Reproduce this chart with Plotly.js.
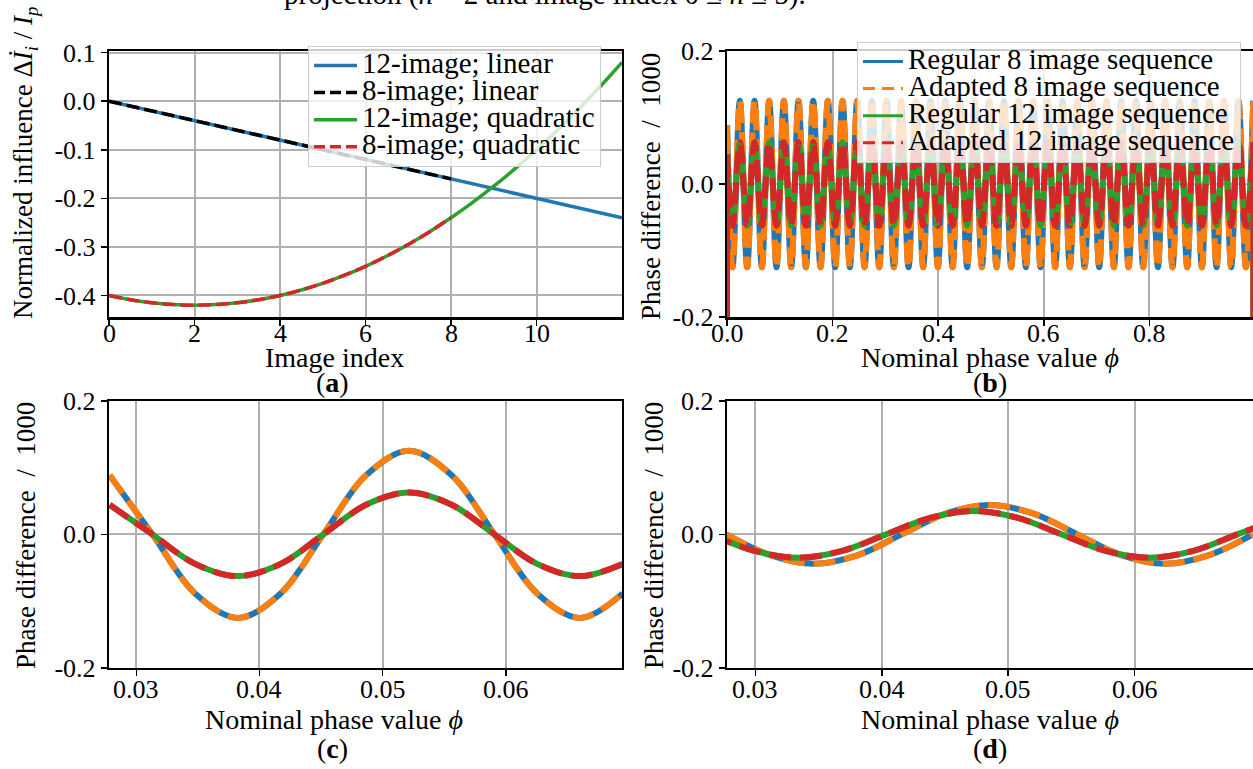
<!DOCTYPE html>
<html><head><meta charset="utf-8">
<script src="https://cdn.plot.ly/plotly-3.0.1.min.js"></script>
<style>html,body{margin:0;padding:0;background:#fff;}#chart{width:1253px;height:769px;}</style>
</head><body><div id="chart"></div>
<script>
// ---------- Panel (a): normalized influence vs image index ----------
const imageIdx = [0,1,2,3,4,5,6,7,8,9,10,11,12];
const lin12 = [0,-0.02,-0.04,-0.06,-0.08,-0.10,-0.12,-0.14,-0.16,-0.18,-0.20,-0.22,-0.24];
const lin8Idx = [0,1,2,3,4,5,6,7,8];
const lin8 = [0,-0.02,-0.04,-0.06,-0.08,-0.10,-0.12,-0.14,-0.16];
const quadIdx = [0,0.5,1,1.5,2,2.5,3,3.5,4,4.5,5,5.5,6,6.5,7,7.5,8,8.5,9,9.5,10,10.5,11,11.5,12];
const quad12 = [-0.4,-0.40875,-0.415,-0.41875,-0.42,-0.41875,-0.415,-0.40875,-0.4,-0.38875,-0.375,-0.35875,-0.34,-0.31875,-0.295,-0.26875,-0.24,-0.20875,-0.175,-0.13875,-0.1,-0.05875,-0.015,0.03125,0.08];
const quad8Idx = [0,0.5,1,1.5,2,2.5,3,3.5,4,4.5,5,5.5,6,6.5,7,7.5,8];
const quad8 = [-0.4,-0.40875,-0.415,-0.41875,-0.42,-0.41875,-0.415,-0.40875,-0.4,-0.38875,-0.375,-0.35875,-0.34,-0.31875,-0.295,-0.26875,-0.24];

// ---------- Panel (b): phase difference over full phase range ----------
const bTroughPhi = [0.0105,0.0382,0.0660,0.0938,0.1216,0.1494,0.1771,0.2049,0.2327,0.2605,0.2883,0.3160,0.3438,0.3716,0.3994,0.4272,0.4549,0.4827,0.5105,0.5383,0.5661,0.5938,0.6216,0.6494,0.6772,0.7049,0.7327,0.7605,0.7883,0.8161,0.8438,0.8716,0.8994,0.9272,0.9549,0.9827];
const bPeakPhi = [0.0244,0.0521,0.0799,0.1077,0.1355,0.1633,0.1910,0.2188,0.2466,0.2744,0.3021,0.3299,0.3577,0.3855,0.4133,0.4410,0.4688,0.4966,0.5244,0.5521,0.5799,0.6077,0.6355,0.6633,0.6910,0.7188,0.7466,0.7744,0.8021,0.8299,0.8577,0.8855,0.9133,0.9410,0.9688,0.9966];
const bStart8 = 0.0884, bPeak8 = 0.125, bTrough8 = -0.125;
const bStart12 = 0.0442, bPeak12 = 0.0625, bTrough12 = -0.0625;
// wrap-around artefacts at both ends of the phase range
const bEdgeStartPhi = [0.0012,0.0022];
const bEdgeStart8 = [-0.6,0.0884], bEdgeStart12 = [-0.6,0.0442];
const bEdgeEndPhi = [0.9950,0.9958];
const bEdgeEnd8 = [0.124,-0.6], bEdgeEnd12 = [0.062,-0.6];

// ---------- Panel (c): zoom ----------
const cPhi = [0.02783,0.0313,0.03477,0.03825,0.04172,0.04519,0.04866,0.05214,0.05561,0.05908,0.06255,0.06603,0.0695];
const cReg8 = [0.0884,0,-0.0884,-0.125,-0.0884,0,0.0884,0.125,0.0884,0,-0.0884,-0.125,-0.0884];
const cAdp8 = [0.0884,0,-0.0884,-0.125,-0.0884,0,0.0884,0.125,0.0884,0,-0.0884,-0.125,-0.0884];
const cReg12 = [0.0442,0,-0.0442,-0.0625,-0.0442,0,0.0442,0.0625,0.0442,0,-0.0442,-0.0625,-0.0442];
const cAdp12 = [0.0442,0,-0.0442,-0.0625,-0.0442,0,0.0442,0.0625,0.0442,0,-0.0442,-0.0625,-0.0442];

// ---------- Panel (d): zoom, second case ----------
const dPhi8 = [0.0277,0.03117,0.03464,0.03811,0.04158,0.04506,0.04853,0.052,0.05547,0.05894,0.06242,0.06589,0.06936];
const dReg8 = [0,-0.0311,-0.044,-0.0311,0,0.0311,0.044,0.0311,0,-0.0311,-0.044,-0.0311,0];
const dAdp8 = [0,-0.0311,-0.044,-0.0311,0,0.0311,0.044,0.0311,0,-0.0311,-0.044,-0.0311,0];
const dPhi12 = [0.02646,0.02993,0.0334,0.03687,0.04034,0.04382,0.04729,0.05076,0.05423,0.0577,0.06118,0.06465,0.06812,0.07159];
const dReg12 = [0,-0.0247,-0.035,-0.0247,0,0.0247,0.035,0.0247,0,-0.0247,-0.035,-0.0247,0,0.0247];
const dAdp12 = [0,-0.0247,-0.035,-0.0247,0,0.0247,0.035,0.0247,0,-0.0247,-0.035,-0.0247,0,0.0247];

// ---------- Tick labels ----------
const aXTicks = [0,2,4,6,8,10], aXText = ['0','2','4','6','8','10'];
const aYTicks = [0.1,0,-0.1,-0.2,-0.3,-0.4], aYText = ['0.1','0.0','-0.1','-0.2','-0.3','-0.4'];
const bXTicks = [0,0.2,0.4,0.6,0.8], bXText = ['0.0','0.2','0.4','0.6','0.8'];
const phYTicks = [0.2,0,-0.2], phYText = ['0.2','0.0','-0.2'];
const cdXTicks = [0.03,0.04,0.05,0.06], cdXText = ['0.03','0.04','0.05','0.06'];

const legA = ['12-image; linear','8-image; linear','12-image; quadratic','8-image; quadratic'];
const legB = ['Regular 8 image sequence','Adapted 8 image sequence','Regular 12 image sequence','Adapted 12 image sequence'];

// ---------- build ----------
const FONT = 'Liberation Serif';
const BLUE='#1f77b4', ORANGE='#ff7f0e', GREEN='#2ca02c', RED='#d62728';
const W=1253, H=769;
const PX = x => x/W, PY = y => 1 - y/H;

function buildB(start, trough, peak){
  const x=[0], y=[start];
  for(let k=0;k<bTroughPhi.length;k++){
    x.push(bTroughPhi[k]); y.push(trough);
    x.push(bPeakPhi[k]); y.push(peak);
  }
  return {x, y};
}
const b8 = buildB(bStart8, bTrough8, bPeak8);
const b12 = buildB(bStart12, bTrough12, bPeak12);

const DASH_A = '13px,5px', DASH_T = '22px,9px';
const traces = [];
function line(x,y,color,width,dash,xa,ya,shape){
  traces.push({x,y,type:'scatter',mode:'lines',xaxis:xa,yaxis:ya,showlegend:false,hoverinfo:'skip',
    line:{color,width,dash:dash||'solid',shape:shape||'linear',smoothing:1}});
}
function legItem(name,color,width,dash,leg,xa,ya){
  traces.push({x:[null],y:[null],type:'scatter',mode:'lines',xaxis:xa,yaxis:ya,legend:leg,showlegend:true,
    name:'<span style="font-size:29px">'+name+'</span>',line:{color,width,dash:dash||'solid'}});
}
// panel a
line(imageIdx,lin12,BLUE,3.5,null,'x','y');
line(lin8Idx,lin8,'black',3.5,DASH_A,'x','y');
line(quadIdx,quad12,GREEN,3.5,null,'x','y','spline');
line(quad8Idx,quad8,RED,3.5,DASH_A,'x','y','spline');
legItem(legA[0],BLUE,3.5,null,'legend','x','y');
legItem(legA[1],'black',3.5,'11px,5px','legend','x','y');
legItem(legA[2],GREEN,3.5,null,'legend','x','y');
legItem(legA[3],RED,3.5,'11px,5px','legend','x','y');
// panel b
const bSeries = [[b8,bEdgeStart8,bEdgeEnd8,BLUE,null],[b8,bEdgeStart8,bEdgeEnd8,ORANGE,DASH_T],
                 [b12,bEdgeStart12,bEdgeEnd12,GREEN,null],[b12,bEdgeStart12,bEdgeEnd12,RED,DASH_T]];
bSeries.forEach(([s,es,ee,col,dash])=>{
  line(s.x,s.y,col,6,dash,'x2','y2','spline');
  line(bEdgeStartPhi,es,col,4,null,'x2','y2');
  line(bEdgeEndPhi,ee,col,4,null,'x2','y2');
});
legItem(legB[0],BLUE,3,null,'legend2','x2','y2');
legItem(legB[1],ORANGE,3,'12px,7px','legend2','x2','y2');
legItem(legB[2],GREEN,3,null,'legend2','x2','y2');
legItem(legB[3],RED,3,'12px,7px','legend2','x2','y2');
// panel c
line(cPhi,cReg8,BLUE,6,null,'x3','y3','spline');
line(cPhi,cAdp8,ORANGE,6,DASH_T,'x3','y3','spline');
line(cPhi,cReg12,GREEN,6,null,'x3','y3','spline');
line(cPhi,cAdp12,RED,6,DASH_T,'x3','y3','spline');
// panel d
line(dPhi8,dReg8,BLUE,6,null,'x4','y4','spline');
line(dPhi8,dAdp8,ORANGE,6,DASH_T,'x4','y4','spline');
line(dPhi12,dReg12,GREEN,6,null,'x4','y4','spline');
line(dPhi12,dAdp12,RED,6,DASH_T,'x4','y4','spline');

function ax(domain,range,tv,tt,anchor,mirror,showLabels){
  return {domain,range,anchor,tickmode:'array',tickvals:tv,ticktext:tt,showticklabels:showLabels,showline:true,linecolor:'black',linewidth:2.2,
    mirror:mirror,ticks:'outside',ticklen:6,tickwidth:1.6,tickcolor:'black',showgrid:true,gridcolor:'#b0b0b0',
    gridwidth:2,zeroline:false,tickfont:{family:FONT,size:26,color:'black'},fixedrange:true};
}
const LX=[PX(109),PX(622)], RX=[PX(727),1];
const TY=[PY(317.3),PY(50.7)], BY=[PY(668),PY(400.7)];

function ann(text,x,y,size,opts){
  return Object.assign({text,x:PX(x),y:PY(y),xref:'paper',yref:'paper',showarrow:false,
    font:{family:FONT,size:size,color:'black'},xanchor:'center',yanchor:'middle'},opts||{});
}
const PHLAB = 'Phase difference\u00a0\u00a0/\u00a0\u00a01000';
const XPH = 'Nominal phase value <i>ϕ</i>';
const annotations = [
  ann('projection (<i>n</i> = 2 and image index 0 ≤ <i>n</i> ≤ 5).',545,13,29,{yanchor:'bottom'}),
  ann('Normalized influence Δ<i>İ</i><sub><i>i</i></sub> / <i>I</i><sub><i>p</i></sub>',25,163,27,{textangle:-90}),
  ann(PHLAB,651,186,27,{textangle:-90}),
  ann(PHLAB,26,536,27,{textangle:-90}),
  ann(PHLAB,654,536,27,{textangle:-90}),
  ann('Image index',334,357,28),
  ann(XPH,990,357,28),
  ann(XPH,334,719,28),
  ann(XPH,990,719,28),
  ann('(<b>a</b>)',333,382,28),
  ann('(<b>b</b>)',990,382,28),
  ann('(<b>c</b>)',333,748,28),
  ann('(<b>d</b>)',990,748,28)
];
// x tick labels placed just under each axis, positioned through the axis scale
function xTickAnns(xref,vals,texts,yPix){
  vals.forEach((v,i)=>annotations.push({text:texts[i],x:v,xref,y:PY(yPix),yref:'paper',showarrow:false,
    xanchor:'center',yanchor:'middle',font:{family:FONT,size:26,color:'black'}}));
}
xTickAnns('x',aXTicks,aXText,333);
xTickAnns('x2',bXTicks,bXText,333);
xTickAnns('x3',cdXTicks,cdXText,689);
xTickAnns('x4',cdXTicks,cdXText,689);

const legendBase = {bgcolor:'rgba(255,255,255,0.8)',bordercolor:'#cccccc',borderwidth:1,
  font:{family:FONT,size:18.5,color:'black'},xanchor:'left',yanchor:'top',tracegroupgap:0};

const layout = {
  width:W,height:H,margin:{l:0,r:0,t:0,b:0,autoexpand:false},paper_bgcolor:'white',plot_bgcolor:'white',
  font:{family:FONT,color:'black'},
  xaxis: ax(LX,[0,12],aXTicks,aXText,'y',true,false),
  yaxis: ax(TY,[-0.445,0.104],aYTicks,aYText,'x',true,true),
  xaxis2: ax(RX,[0,0.9962],bXTicks,bXText,'y2',true,false),
  yaxis2: ax(TY,[-0.2,0.2],phYTicks,phYText,'x2',false,true),
  xaxis3: ax(LX,[0.027778,0.069444],cdXTicks,cdXText,'y3',true,false),
  yaxis3: ax(BY,[-0.2,0.2],phYTicks,phYText,'x3',true,true),
  xaxis4: ax(RX,[0.02775,0.06937],cdXTicks,cdXText,'y4',true,false),
  yaxis4: ax(BY,[-0.2,0.2],phYTicks,phYText,'x4',false,true),
  legend: Object.assign({},legendBase,{x:PX(308),y:PY(46),itemwidth:43}),
  legend2: Object.assign({},legendBase,{x:PX(857),y:PY(42),itemwidth:40}),
  annotations,
  showlegend:true
};
Plotly.newPlot('chart',traces,layout,{staticPlot:true,displayModeBar:false});
</script></body></html>
